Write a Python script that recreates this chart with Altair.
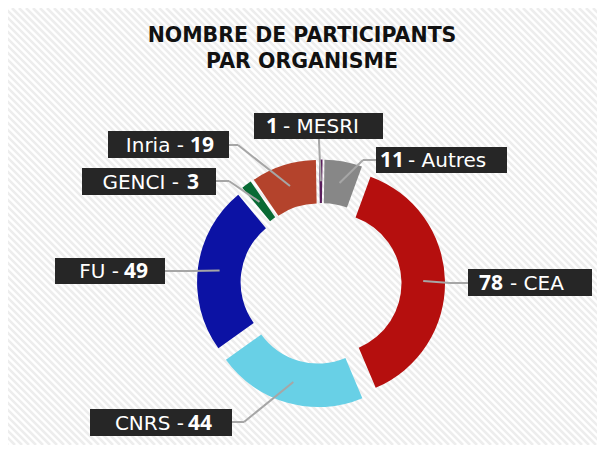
import altair as alt
import pandas as pd

# ---- data -------------------------------------------------------------
names = ["MESRI", "Autres", "CEA", "CNRS", "FU", "GENCI", "Inria"]
values = [1, 11, 78, 44, 49, 3, 19]
colors = ["#5a1d5c", "#878787", "#b50f0e", "#68d0e6", "#0c12a4", "#086a34", "#b4432c"]
number_first = [True, True, True, False, False, False, False]

title_lines = ["NOMBRE DE PARTICIPANTS", "PAR ORGANISME"]

# ---- layout (page pixels) ---------------------------------------------
OFF = 8
CX, CY = 321, 283.5
R_OUT, R_IN, EXPLODE = 113.5, 70, 10.5
ROT = -0.017  # radians

box_x0 = [254, 376, 468, 90, 55, 82, 108]
box_x1 = [383, 507, 592, 232, 165, 216, 229]
box_y0 = [113, 147, 269, 409, 258, 168, 131]
box_y1 = [139, 173, 296, 436, 284, 195, 158]
elbow_x = [319, 363, 450, 244, 190, 229, 238]
elbow_y = [141, 160, 283, 422, 271, 181, 145]
edge_x = [319, 376, 468, 232, 165, 216, 229]
edge_y = [139, 160, 283, 422, 271, 181, 145]
first_end = [278, 404, 503, 184, 119, 179, 184]
second_start = [283, 408, 510, 188, 124, 187, 190]

W, H = 605 - 2 * OFF, 453 - 2 * OFF

rows = []
for i, n in enumerate(names):
    v = values[i]
    if number_first[i]:
        first, second = str(v), "- " + n
    else:
        first, second = n + " -", str(v)
    rows.append(dict(
        name=n, value=v, idx=i, nf=int(number_first[i]),
        bx0=box_x0[i] - OFF, bx1=box_x1[i] - OFF,
        by0=box_y0[i] - OFF, by1=box_y1[i] - OFF,
        ex=elbow_x[i] - OFF, ey=elbow_y[i] - OFF,
        gx=edge_x[i] - OFF, gy=edge_y[i] - OFF,
        tx1=first_end[i] - OFF, tx2=second_start[i] - OFF,
        ty=(box_y0[i] + box_y1[i]) / 2 - OFF + 1,
        t1=first, t2=second,
    ))
df = pd.DataFrame(rows)

base = alt.Chart(df).transform_window(
    cum="sum(value)", sort=[alt.SortField("idx")], frame=[None, 0]
).transform_joinaggregate(
    total="sum(value)"
).transform_calculate(
    mid=f"{ROT} + 2*PI*(datum.cum - datum.value/2)/datum.total",
).transform_calculate(
    ax=f"{CX - OFF} + {EXPLODE}*sin(datum.mid)",
    ay=f"{CY - OFF} - {EXPLODE}*cos(datum.mid)",
    lx=f"{CX - OFF} + {(R_OUT + R_IN) / 2 + EXPLODE}*sin(datum.mid)",
    ly=f"{CY - OFF} - {(R_OUT + R_IN) / 2 + EXPLODE}*cos(datum.mid)",
)

# background stripes
stripes = alt.Chart(alt.sequence(0, 160, as_="k")).transform_calculate(
    x0=f"datum.k*7 - {H}", x1="datum.k*7"
).mark_rule(stroke="#ededed", strokeWidth=2.6, clip=True).encode(
    x=alt.X("x0:Q", scale=None), x2="x1:Q",
    y=alt.value(0), y2=alt.value(H),
)

arcs = base.mark_arc(innerRadius=R_IN, outerRadius=R_OUT).encode(
    theta=alt.Theta("value:Q", stack=True,
                    scale=alt.Scale(range=[ROT, ROT + 6.283185307])),
    order=alt.Order("idx:Q"),
    x=alt.X("ax:Q", scale=None),
    y=alt.Y("ay:Q", scale=None),
    color=alt.Color("name:N", scale=alt.Scale(domain=names, range=colors), legend=None),
)

lead1 = base.mark_rule(stroke="#a6a6a6", strokeWidth=2).encode(
    x=alt.X("lx:Q", scale=None), y=alt.Y("ly:Q", scale=None),
    x2="ex:Q", y2="ey:Q",
)
lead2 = base.mark_rule(stroke="#a6a6a6", strokeWidth=2).encode(
    x=alt.X("ex:Q", scale=None), y=alt.Y("ey:Q", scale=None),
    x2="gx:Q", y2="gy:Q",
)

boxes = base.mark_rect(color="#262626").encode(
    x=alt.X("bx0:Q", scale=None), x2="bx1:Q",
    y=alt.Y("by0:Q", scale=None), y2="by1:Q",
)

FONT_REG = "DejaVu Sans"
FONT_BOLD = "Open Sans"
FS = 20


def text_layer(flag, field, xfield, align, bold):
    return base.transform_filter(f"datum.nf == {flag}").mark_text(
        align=align, baseline="middle",
        font=FONT_BOLD if bold else FONT_REG,
        fontSize=FS + (1 if bold else 0),
        fontWeight="bold" if bold else "normal", color="white",
    ).encode(
        x=alt.X(f"{xfield}:Q", scale=None), y=alt.Y("ty:Q", scale=None),
        text=f"{field}:N",
    )


texts = [
    text_layer(1, "t1", "tx1", "right", True),
    text_layer(1, "t2", "tx2", "left", False),
    text_layer(0, "t1", "tx1", "right", False),
    text_layer(0, "t2", "tx2", "left", True),
]

title_df = pd.DataFrame({"t": title_lines, "row": [0, 1]})
title = alt.Chart(title_df).transform_calculate(
    ty=f"{42 - OFF} + datum.row*26"
).mark_text(align="center", baseline="alphabetic", font=FONT_REG, fontSize=20.5,
            fontWeight="bold", color="#111111").encode(
    x=alt.value(302 - OFF), y=alt.Y("ty:Q", scale=None), text="t:N",
)

chart = alt.layer(stripes, arcs, lead1, lead2, boxes, *texts, title).properties(
    width=W, height=H, autosize="none", padding=0, background="white",
).configure_view(stroke=None)

chart.save("out.html", embed_options={"renderer": "svg", "actions": False})
